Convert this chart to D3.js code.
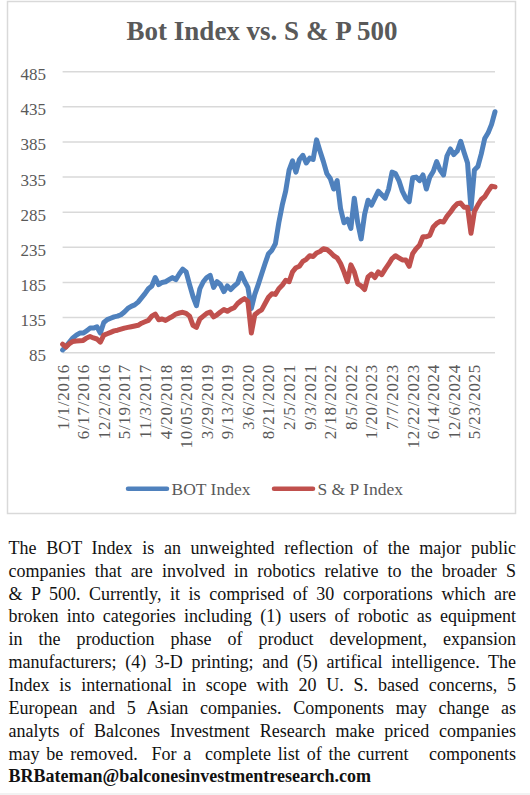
<!DOCTYPE html>
<html>
<head>
<meta charset="utf-8">
<script src="https://cdn.jsdelivr.net/npm/d3@7"></script>
<style>
  body { margin: 0; background: #fff; }
  svg { display: block; font-family: "Liberation Serif", "Times New Roman", serif; }
</style>
</head>
<body>
<script>
var width = 530
var height = 795

// one value every 4 weeks, week 0 = 1/1/2016
var step = 4

var dateLabels = ["1/1/2016", "6/17/2016", "12/2/2016", "5/19/2017", "11/3/2017", "4/20/2018",
  "10/05/2018", "3/29/2019", "9/13/2019", "3/6/2020", "8/21/2020", "2/5/2021", "9/3/2021",
  "2/18/2022", "8/5/2022", "1/20/2023", "7/7/2023", "12/22/2023", "6/14/2024", "12/6/2024", "5/23/2025"]
var labelEvery = 24 // weeks between date labels

var botIndex = [
  89, 94, 100, 106, 110, 113, 113, 116, 120, 120, 122, 113, 128, 132, 134, 136, 137, 139, 143, 148,
  151, 153, 157, 163, 169, 176, 180, 192, 182, 185, 186, 189, 192, 189, 197, 204, 200, 182, 165, 152,
  176, 186, 192, 195, 178, 186, 182, 172, 180, 175, 180, 184, 198, 187, 178, 148, 168, 182, 197, 212,
  226, 231, 240, 270, 295, 315, 345, 358, 342, 360, 366, 355, 362, 360, 388, 372, 357, 340, 333, 318,
  330, 290, 270, 275, 262, 305, 270, 247, 282, 302, 295, 305, 315, 310, 305, 318, 342, 340, 330, 315,
  305, 300, 334, 335, 330, 338, 318, 335, 343, 357, 345, 338, 365, 375, 367, 372, 386, 370, 355, 290,
  345, 350, 368, 390, 398, 410, 428]

var spIndex = [
  97, 93, 98, 101, 101.5, 102, 102.5, 106, 108, 106, 104.5, 100, 110, 112, 114, 116, 117, 118.5, 120, 121,
  122, 123, 124, 127, 129, 131, 137, 140, 132, 133, 131, 134, 136.5, 140, 141.5, 142.5, 141, 137, 124, 121,
  133, 137, 141, 143, 136, 139, 143, 146.5, 144, 147, 149, 155, 159, 162, 158, 113, 139, 143, 146, 155,
  164, 169, 168, 176, 181, 188, 186, 200, 206, 208, 215, 218, 223, 222, 227, 229, 233, 232, 228, 223,
  220, 212, 200, 186, 210, 200, 183, 180, 175, 193, 197, 192, 200, 196, 204, 211, 219, 223, 220, 217,
  217, 208, 226, 233, 238, 250, 250, 252, 264, 269, 272, 271, 279, 285, 292, 297, 298, 292, 292, 255,
  286, 295, 303, 307, 315, 322, 321]

var yTicks = [85, 135, 185, 235, 285, 335, 385, 435, 485]

var seriesNames = ["BOT Index", "S & P Index"]
var seriesColors = ["#4f81bd", "#c0504d"]

var noteLines = [
  "The BOT Index is an unweighted reflection of the major public",
  "companies that are involved in robotics relative to the broader S",
  "& P 500. Currently, it is comprised of 30 corporations which are",
  "broken into categories including (1) users of robotic as equipment",
  "in the production phase of product development, expansion",
  "manufacturers; (4) 3-D printing; and (5) artifical intelligence. The",
  "Index is international in scope with 20 U. S. based concerns, 5",
  "European and 5 Asian companies. Components may change as",
  "analyts of Balcones Investment Research make priced companies",
  "may be removed.  For a  complete list of the current   components"
]
var email = "BRBateman@balconesinvestmentresearch.com"

const svg = d3.select("body").append("svg")
  .attr("width", width).attr("height", height)

svg.append("rect").attr("width", width).attr("height", height).attr("fill", "#fff")
svg.append("rect").attr("y", 793).attr("width", width).attr("height", 2).attr("fill", "#f2f2f2")

// chart frame
svg.append("rect")
  .attr("x", 7.5).attr("y", 1.5)
  .attr("width", 508).attr("height", 512)
  .attr("fill", "#fff").attr("stroke", "#d9d9d9").attr("stroke-width", 1.5)

svg.append("text")
  .attr("x", 262).attr("y", 40)
  .attr("text-anchor", "middle")
  .attr("font-size", 27).attr("font-weight", "bold")
  .attr("fill", "#595959")
  .text("Bot Index vs. S & P 500")

const x = d3.scaleLinear()
  .domain([0, (botIndex.length - 1) * step])
  .range([62.6, 495])

const y = d3.scaleLinear()
  .domain([85, 485])
  .range([352.7, 71.7])

// gridlines
svg.append("g")
  .selectAll("line")
  .data(yTicks)
  .join("line")
  .attr("x1", x.range()[0]).attr("x2", x.range()[1])
  .attr("y1", d => y(d)).attr("y2", d => y(d))
  .attr("stroke", "#d9d9d9").attr("stroke-width", 1.5)

svg.append("g")
  .selectAll("text")
  .data(yTicks)
  .join("text")
  .attr("x", 46).attr("y", d => y(d) + 2.5)
  .attr("dy", "0.35em")
  .attr("text-anchor", "end")
  .attr("font-size", 17).attr("fill", "#595959")
  .text(d => d)

svg.append("g")
  .selectAll("text")
  .data(dateLabels)
  .join("text")
  .attr("transform", (d, i) => `translate(${x(i * labelEvery)},364) rotate(-90)`)
  .attr("dy", "0.35em")
  .attr("text-anchor", "end")
  .attr("font-size", 17).attr("letter-spacing", 0.7)
  .attr("fill", "#595959")
  .text(d => d)

const line = d3.line()
  .x((d, i) => x(i * step))
  .y(d => y(d))

svg.append("g")
  .selectAll("path")
  .data([botIndex, spIndex])
  .join("path")
  .attr("d", line)
  .attr("fill", "none")
  .attr("stroke", (d, i) => seriesColors[i])
  .attr("stroke-width", 5)
  .attr("stroke-linejoin", "round")
  .attr("stroke-linecap", "round")

// legend
const legendX = [128, 274]
const legend = svg.append("g")
  .selectAll("g")
  .data(seriesNames)
  .join("g")
  .attr("transform", (d, i) => `translate(${legendX[i]},488.8)`)

legend.append("line")
  .attr("x1", 0).attr("x2", 39)
  .attr("stroke", (d, i) => seriesColors[i])
  .attr("stroke-width", 4.5).attr("stroke-linecap", "round")

legend.append("text")
  .attr("x", 43.5).attr("dy", "0.35em")
  .attr("font-size", 17.5).attr("fill", "#595959")
  .text(d => d)

// note below the chart, justified line by line
const noteLeft = 8.5, noteRight = 516
const notes = svg.append("g")
  .selectAll("text")
  .data(noteLines)
  .join("text")
  .attr("x", noteLeft)
  .attr("y", (d, i) => 553.8 + i * 22.86)
  .attr("font-size", 18).attr("fill", "#111")
  .style("white-space", "pre")
  .text(d => d)

notes.each(function (d) {
  const len = this.getComputedTextLength()
  const gaps = (d.match(/ /g) || []).length
  d3.select(this).attr("word-spacing", (noteRight - noteLeft - len) / gaps)
})

svg.append("text")
  .attr("x", noteLeft)
  .attr("y", 553.8 + noteLines.length * 22.86)
  .attr("font-size", 18).attr("font-weight", "bold").attr("fill", "#111")
  .text(email)
</script>
</body>
</html>
